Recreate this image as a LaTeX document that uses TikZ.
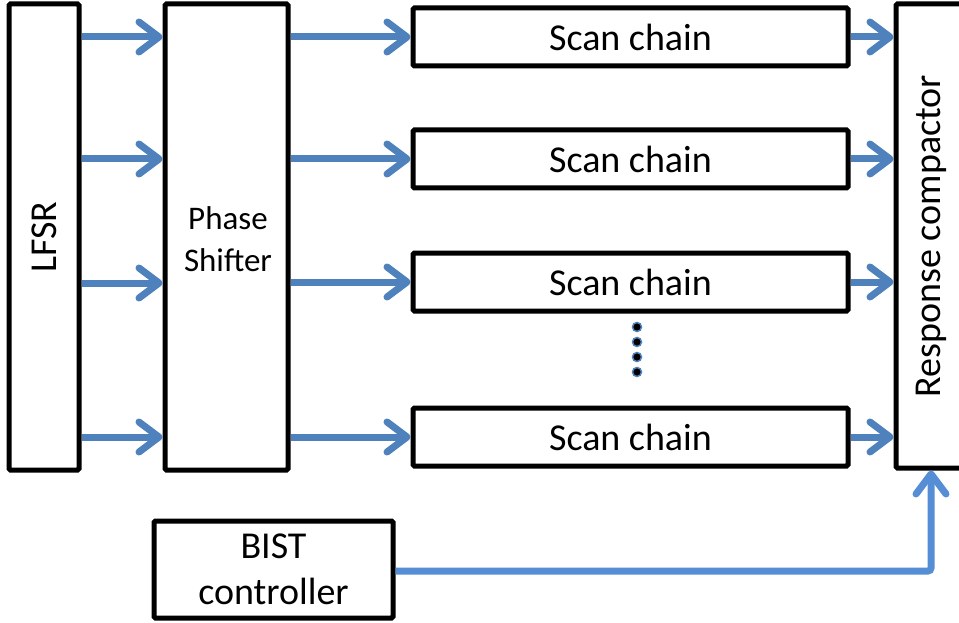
\documentclass[tikz,border=0pt]{standalone}
\usepackage{fontspec}
\setmainfont{Carlito}
\usetikzlibrary{arrows.meta}
\definecolor{sig}{HTML}{4F81BD}
\definecolor{ctl}{HTML}{558ED5}
\tikzset{
  blk/.style={draw=black, line width=5pt, rounded corners=1.5pt, inner sep=0pt},
  flow/.style={draw=sig, line width=7pt,
    -{Straight Barb[length=20pt, width=30pt, line cap=round, line join=round]}},
  ctlflow/.style={draw=ctl, line width=7pt, rounded corners=3pt,
    -{Straight Barb[length=20pt, width=30pt, line cap=round, line join=round]}},
  lbl/.style={font=\fontsize{38}{42}\selectfont},
}
\begin{document}
\begin{tikzpicture}[x=1pt, y=-1pt]
\useasboundingbox (0,0) rectangle (959,623);
\begin{scope}
\clip (0,0) rectangle (959,623);
% main blocks
\node[blk, minimum width=70pt, minimum height=466pt] (lfsr) at (44,237) {};
\node[lbl, rotate=90] at (lfsr.center) {LFSR};
\node[blk, minimum width=123pt, minimum height=466pt] (ps) at (226.5,237) {};
\node[align=center, font=\fontsize{33}{42}\selectfont] at (228,239) {Phase\\Shifter};
\node[blk, minimum width=70pt, minimum height=464pt] (rc) at (931,236) {};
\node[lbl, rotate=90] at (931,236) {Response compactor};
% scan chains
\foreach \i/\y in {1/37, 2/159, 3/282, 4/437}{
  \node[blk, lbl, minimum width=435pt, minimum height=58pt] (sc\i) at (630.5,\y) {Scan chain};
}
\node[blk, minimum width=239pt, minimum height=97pt] (bist) at (273.5,569.5) {};
\node[align=center, font=\fontsize{38}{46}\selectfont] at (bist.center) {BIST\\controller};
% data flow
\foreach \i/\y in {1/37, 2/159, 3/283, 4/437}{
  \draw[flow] (lfsr.east |- 0,\y) -- (ps.west |- 0,\y);
  \draw[flow] (ps.east |- sc\i) -- (sc\i.west);
  \draw[flow] (sc\i.east) -- (rc.west |- sc\i);
}
% dots for the omitted chains
\foreach \y in {327, 342, 357, 372}{
  \fill[black, draw=sig, line width=1.5pt] (637,\y) circle (4.5pt);
}
% controller link
\coordinate (turn) at (931,571);
\draw[ctlflow] (bist.east |- turn) -- (turn) -- (rc.south);
\end{scope}
\end{tikzpicture}
\end{document}
